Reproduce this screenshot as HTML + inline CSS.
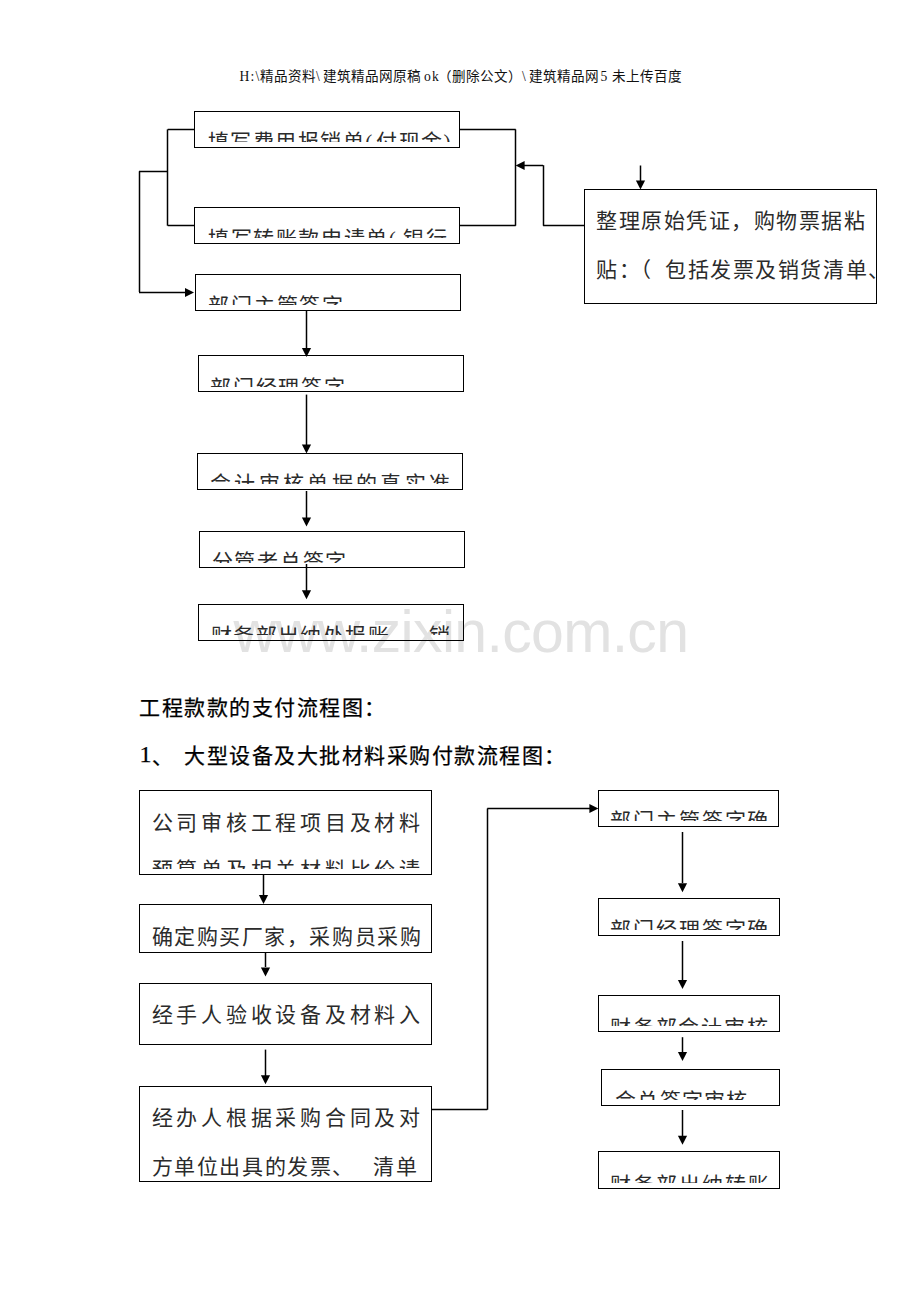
<!DOCTYPE html>
<html lang="zh-CN"><head><meta charset="utf-8"><style>
html,body{margin:0;padding:0;background:#fff;}
body{width:920px;height:1302px;position:relative;overflow:hidden;font-family:'Liberation Serif',serif;}
.b{position:absolute;border:1px solid #000;box-sizing:border-box;}
.c{position:absolute;overflow:hidden;}
.t{position:absolute;left:0;white-space:nowrap;font-size:21px;line-height:22px;color:#2b2b2b;}
.h{position:absolute;white-space:nowrap;font-size:21px;line-height:22px;font-weight:normal;color:#000;letter-spacing:1.5px;-webkit-text-stroke:0.25px #000;}
.p{display:inline-block;width:11px;text-align:left}
.m{font-family:'Liberation Mono',monospace;font-size:11.33px;}
.wm{position:absolute;white-space:nowrap;font-family:'Liberation Sans',sans-serif;color:#e2e2e2;font-size:59px;line-height:59px;}
</style></head><body>
<div class="wm" style="left:233.5px;top:602.5px;letter-spacing:-0.67px">www.zixin.com.cn</div>
<div style="position:absolute;left:239.5px;top:68.5px;white-space:nowrap;font-size:13.6px;line-height:16px;color:#111;letter-spacing:1.2px">H:\</div>
<div style="position:absolute;left:260.0px;top:68.5px;white-space:nowrap;font-size:13.6px;line-height:16px;color:#111;letter-spacing:0px">精品资料</div>
<div style="position:absolute;left:316.0px;top:68.5px;white-space:nowrap;font-size:13.6px;line-height:16px;color:#111;letter-spacing:1.2px">\</div>
<div style="position:absolute;left:323.0px;top:68.5px;white-space:nowrap;font-size:13.6px;line-height:16px;color:#111;letter-spacing:0px">建筑精品网原稿</div>
<div style="position:absolute;left:424.0px;top:68.5px;white-space:nowrap;font-size:13.6px;line-height:16px;color:#111;letter-spacing:1.2px">ok</div>
<div style="position:absolute;left:437.5px;top:68.5px;white-space:nowrap;font-size:13.6px;line-height:16px;color:#111;letter-spacing:0px">（删除公文）</div>
<div style="position:absolute;left:522.0px;top:68.5px;white-space:nowrap;font-size:13.6px;line-height:16px;color:#111;letter-spacing:1.2px">\</div>
<div style="position:absolute;left:529.3px;top:68.5px;white-space:nowrap;font-size:13.6px;line-height:16px;color:#111;letter-spacing:0px">建筑精品网</div>
<div style="position:absolute;left:600.5px;top:68.5px;white-space:nowrap;font-size:13.6px;line-height:16px;color:#111;letter-spacing:1.2px">5</div>
<div style="position:absolute;left:611.8px;top:68.5px;white-space:nowrap;font-size:13.6px;line-height:16px;color:#111;letter-spacing:0px">未上传百度</div>
<div class="b" style="left:194px;top:111px;width:266px;height:37px"></div>
<div class="c" style="left:195px;top:112px;width:264px;height:30px"><div class="t" style="left:12.9px;top:19.3px;letter-spacing:1.46px">填写费用报销单<span class=p>(</span>付现金<span class=p>)</span></div></div>
<div class="b" style="left:194px;top:207px;width:266px;height:37px"></div>
<div class="c" style="left:195px;top:208.5px;width:264px;height:29.5px"><div class="t" style="left:12.9px;top:19.5px;letter-spacing:1.6199999999999999px">填写转账款申请单<span class=p style="width:14.5px">(</span>银行</div></div>
<div class="b" style="left:195px;top:274px;width:266px;height:37px"></div>
<div class="c" style="left:196.5px;top:275px;width:263.5px;height:30px"><div class="t" style="left:11.2px;top:20.4px;letter-spacing:1.95px">部门主管签字</div></div>
<div class="b" style="left:198px;top:355px;width:266px;height:37px"></div>
<div class="c" style="left:199.5px;top:356px;width:263.5px;height:31.4px"><div class="t" style="left:10.5px;top:20.8px;letter-spacing:1.79px">部门经理签字</div></div>
<div class="b" style="left:197px;top:453px;width:266px;height:37px"></div>
<div class="c" style="left:198.3px;top:454.7px;width:263.7px;height:29.3px"><div class="t" style="left:11.7px;top:17.9px;letter-spacing:3.33px">会计审核单据的真实准</div></div>
<div class="b" style="left:199px;top:531px;width:266px;height:37px"></div>
<div class="c" style="left:200.6px;top:532.3px;width:263.7px;height:30.7px"><div class="t" style="left:11.0px;top:18.6px;letter-spacing:1.75px">分管老总签字</div></div>
<div class="b" style="left:198px;top:604px;width:266px;height:37px"></div>
<div class="c" style="left:199.5px;top:605px;width:263.5px;height:30px"><div class="t" style="left:11.4px;top:20.0px;letter-spacing:1.4px">财务部出纳处报账<span style="display:inline-block;width:39px"></span>销</div></div>
<div class="b" style="left:598px;top:790px;width:181px;height:37px"></div>
<div class="c" style="left:599.4px;top:791.2px;width:179.1px;height:29.8px"><div class="t" style="left:10.8px;top:18.8px;letter-spacing:1.88px">部门主管签字确</div></div>
<div class="b" style="left:598px;top:898px;width:182px;height:38px"></div>
<div class="c" style="left:599px;top:899.9px;width:180px;height:30.4px"><div class="t" style="left:11.2px;top:18.8px;letter-spacing:1.88px">部门经理签字确</div></div>
<div class="b" style="left:598px;top:995px;width:182px;height:37px"></div>
<div class="c" style="left:599px;top:996.3px;width:180px;height:29.4px"><div class="t" style="left:11.1px;top:20.5px;letter-spacing:1.77px">财务部会计审核</div></div>
<div class="b" style="left:601px;top:1069px;width:179px;height:37px"></div>
<div class="c" style="left:602.5px;top:1070px;width:176.5px;height:29.8px"><div class="t" style="left:12.8px;top:20.3px;letter-spacing:1.15px">会总签字审核</div></div>
<div class="b" style="left:598px;top:1151px;width:182px;height:38px"></div>
<div class="c" style="left:599px;top:1152.5px;width:180px;height:30.1px"><div class="t" style="left:11px;top:21.0px;letter-spacing:1.93px">财务部出纳转账</div></div>
<div class="b" style="left:584px;top:189px;width:293px;height:115px"></div>
<div class="c" style="left:585px;top:190px;width:291.5px;height:113px"><div class="t" style="left:11px;top:20.2px;letter-spacing:1.5499999999999998px">整理原始凭证，购物票据粘</div></div>
<div class="c" style="left:585px;top:190px;width:291.5px;height:113px"><div class="t" style="left:11px;top:68.5px;letter-spacing:1.5499999999999998px">贴：（<span style="display:inline-block;width:11.5px"></span>包括发票及销货清单、</div></div>
<div class="b" style="left:139px;top:790px;width:293px;height:85px"></div>
<div class="c" style="left:140.4px;top:791.4px;width:290.8px;height:83.2px"><div class="t" style="left:11.2px;top:20.6px;letter-spacing:3.75px">公司审核工程项目及材料</div></div>
<div class="c" style="left:140.4px;top:791.4px;width:290.8px;height:77.3px"><div class="t" style="left:11.2px;top:67.9px;letter-spacing:3.75px">预算单及相关材料比价请</div></div>
<div class="b" style="left:139px;top:904px;width:293px;height:49px"></div>
<div class="c" style="left:140.4px;top:905.5px;width:291.5px;height:47.4px"><div class="t" style="left:11.2px;top:20.6px;letter-spacing:1.5499999999999998px">确定购买厂家，采购员采购</div></div>
<div class="b" style="left:139px;top:983px;width:293px;height:62px"></div>
<div class="c" style="left:140.4px;top:984.5px;width:290.8px;height:59.8px"><div class="t" style="left:11.2px;top:19.8px;letter-spacing:3.75px">经手人验收设备及材料入</div></div>
<div class="b" style="left:139px;top:1086px;width:293px;height:96px"></div>
<div class="c" style="left:140.4px;top:1087.1px;width:290.8px;height:94.6px"><div class="t" style="left:11.2px;top:19.9px;letter-spacing:3.75px">经办人根据采购合同及对</div></div>
<div class="c" style="left:140.4px;top:1087.1px;width:290.8px;height:94.6px"><div class="t" style="left:11.2px;top:69.2px;letter-spacing:1.5999999999999999px">方单位出具的发票、<span style="display:inline-block;width:18px"></span>清单</div></div>
<div class="h" style="left:139px;top:697px">工程款款的支付流程图：</div>
<div class="h" style="left:139.5px;top:743px;font-size:24px;letter-spacing:0">1</div><div class="h" style="left:152px;top:746px">、</div>
<div class="h" style="left:184.3px;top:745px">大型设备及大批材料采购付款流程图：</div>
<svg width="920" height="1302" style="position:absolute;left:0;top:0"><line x1="167.7" y1="129.5" x2="194" y2="129.5" stroke="#000" stroke-width="1.5"/><line x1="167.5" y1="129.4" x2="167.5" y2="225.7" stroke="#000" stroke-width="1.5"/><line x1="167.7" y1="225.5" x2="194.6" y2="225.5" stroke="#000" stroke-width="1.5"/><line x1="139" y1="171.5" x2="167.7" y2="171.5" stroke="#000" stroke-width="1.5"/><line x1="139.5" y1="171.3" x2="139.5" y2="292" stroke="#000" stroke-width="1.5"/><line x1="139" y1="292.5" x2="186" y2="292.5" stroke="#000" stroke-width="1.5"/><line x1="459" y1="129.5" x2="515.7" y2="129.5" stroke="#000" stroke-width="1.5"/><line x1="515.5" y1="129.4" x2="515.5" y2="225.7" stroke="#000" stroke-width="1.5"/><line x1="459" y1="225.5" x2="515.7" y2="225.5" stroke="#000" stroke-width="1.5"/><line x1="523" y1="165.5" x2="543.1" y2="165.5" stroke="#000" stroke-width="1.5"/><line x1="543.5" y1="165.2" x2="543.5" y2="225.7" stroke="#000" stroke-width="1.5"/><line x1="543.1" y1="225.5" x2="584" y2="225.5" stroke="#000" stroke-width="1.5"/><line x1="640.5" y1="165.5" x2="640.5" y2="181" stroke="#000" stroke-width="1.5"/><line x1="306.5" y1="310" x2="306.5" y2="349" stroke="#000" stroke-width="1.5"/><line x1="306.5" y1="394.6" x2="306.5" y2="445" stroke="#000" stroke-width="1.5"/><line x1="306.5" y1="491" x2="306.5" y2="518" stroke="#000" stroke-width="1.5"/><line x1="306.5" y1="564" x2="306.5" y2="591" stroke="#000" stroke-width="1.5"/><line x1="263.5" y1="874.6" x2="263.5" y2="895" stroke="#000" stroke-width="1.5"/><line x1="265.5" y1="953" x2="265.5" y2="967" stroke="#000" stroke-width="1.5"/><line x1="265.5" y1="1049.6" x2="265.5" y2="1076" stroke="#000" stroke-width="1.5"/><line x1="431.2" y1="1109.5" x2="487.3" y2="1109.5" stroke="#000" stroke-width="1.5"/><line x1="487.5" y1="808.4" x2="487.5" y2="1109.7" stroke="#000" stroke-width="1.5"/><line x1="487.3" y1="808.5" x2="590" y2="808.5" stroke="#000" stroke-width="1.5"/><line x1="682.5" y1="832" x2="682.5" y2="883" stroke="#000" stroke-width="1.5"/><line x1="682.5" y1="941" x2="682.5" y2="980" stroke="#000" stroke-width="1.5"/><line x1="682.5" y1="1037.2" x2="682.5" y2="1053" stroke="#000" stroke-width="1.5"/><line x1="682.5" y1="1110" x2="682.5" y2="1136" stroke="#000" stroke-width="1.5"/><polygon points="194,292.5 185,287.9 185,297.1" fill="#000"/><polygon points="515.6,165.5 524.6,160.9 524.6,170.1" fill="#000"/><polygon points="640.5,189.4 635.9,180.4 645.1,180.4" fill="#000"/><polygon points="306.5,357 301.9,348 311.1,348" fill="#000"/><polygon points="306.5,453.5 301.9,444.5 311.1,444.5" fill="#000"/><polygon points="306.5,526.4 301.9,517.4 311.1,517.4" fill="#000"/><polygon points="306.5,599.2 301.9,590.2 311.1,590.2" fill="#000"/><polygon points="263.5,903.9 258.9,894.9 268.1,894.9" fill="#000"/><polygon points="265.5,976.4 260.9,967.4 270.1,967.4" fill="#000"/><polygon points="265.5,1084.3 260.9,1075.3 270.1,1075.3" fill="#000"/><polygon points="598.4,808.5 589.4,803.9 589.4,813.1" fill="#000"/><polygon points="682.5,892.2 677.9,883.2 687.1,883.2" fill="#000"/><polygon points="682.5,988.9 677.9,979.9 687.1,979.9" fill="#000"/><polygon points="682.5,1061.1 677.9,1052.1 687.1,1052.1" fill="#000"/><polygon points="682.5,1144.8 677.9,1135.8 687.1,1135.8" fill="#000"/></svg>
</body></html>
